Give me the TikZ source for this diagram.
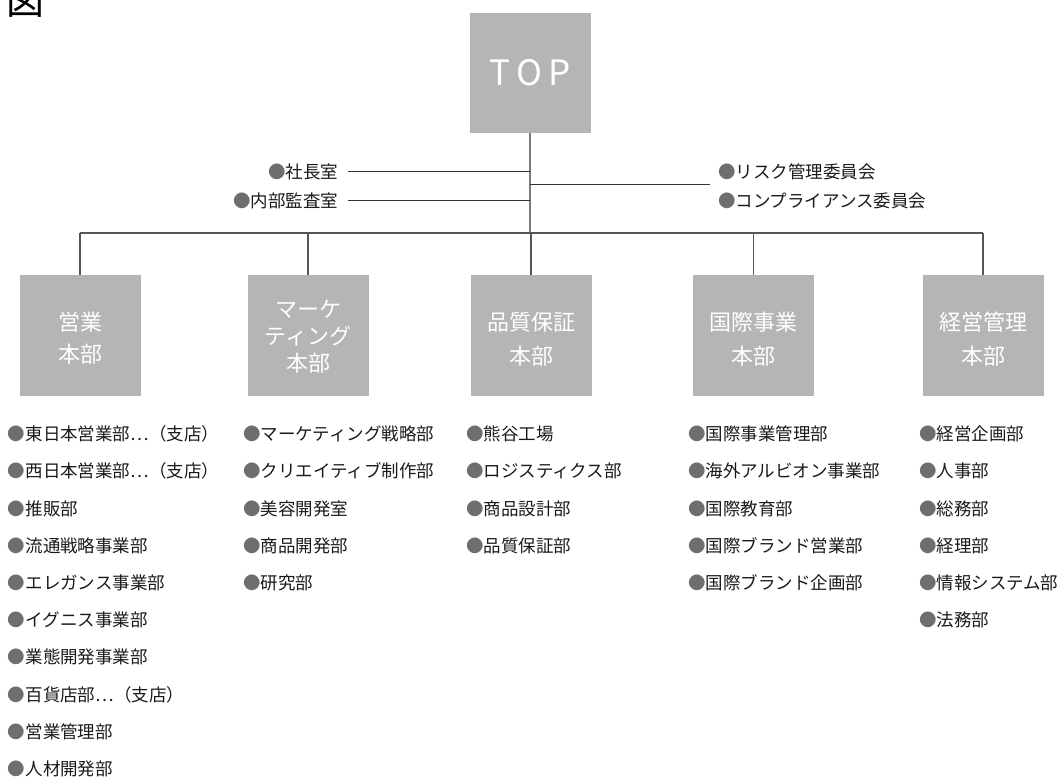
\documentclass[tikz,border=0pt]{standalone}
\usepackage{fontspec}
\setmainfont{Noto Sans CJK JP}
\definecolor{boxgray}{HTML}{B4B5B4}
\definecolor{bul}{HTML}{6E6E6E}
\definecolor{linegray}{HTML}{555555}
\definecolor{trunkgray}{HTML}{7A7A7A}
\definecolor{txt}{HTML}{1A1A1A}
\newcommand{\bl}{{\color{bul}●}}
\tikzset{
  every node/.style={inner sep=0pt, outer sep=0pt},
  lbl/.style={font=\fontsize{17.5}{20}\selectfont, text height=15.4pt, text depth=2.1pt, anchor=west, text=txt},
  boxnode/.style={fill=boxgray, minimum width=121pt, minimum height=121pt},
  boxtxt/.style={text=white, align=center},
  conn/.style={draw=linegray, line width=1.1pt},
  trunk/.style={draw=trunkgray, line width=1.6pt},
  side/.style={draw=black!80, line width=1pt}
}
\begin{document}
\begin{tikzpicture}[x=1pt,y=-1pt]
\useasboundingbox (0,0) rectangle (1061,781);
% title glyph (cut off)
\node[font=\fontsize{38}{40}\selectfont, text height=33.4pt, text depth=4.6pt, text=black] (zu) at (25,0) {図};
% TOP
\node[boxnode, minimum height=120pt] (top) at (530,73) {};
\node[text=white, font=\fontsize{35}{40}\selectfont] (toptxt) at (top.center) {T\hspace{6pt}O\hspace{6pt}P};
% junctions
\coordinate (j1) at (530,172);
\coordinate (j2) at (530,201);
\coordinate (j3) at (530,185);
\coordinate (busM) at (530,233);
\draw[trunk] (top.south) -- (busM);
% side offices
\node[lbl, anchor=east] (s1) at (338,172) {\bl 社長室};
\node[lbl, anchor=east] (s2) at (338,201) {\bl 内部監査室};
\node[lbl] (r1) at (718,172) {\bl リスク管理委員会};
\node[lbl] (r2) at (718,201) {\bl コンプライアンス委員会};
\draw[side] ([xshift=10pt]s1.east) -- (j1);
\draw[side] ([xshift=10pt]s2.east) -- (j2);
\draw[side] (j3) -- ([xshift=-8pt]r1.west |- j3);
% division boxes
\node[boxnode] (b1) at (80,335.5) {};
\node[boxnode] (b2) at (308,335.5) {};
\node[boxnode] (b3) at (531,335.5) {};
\node[boxnode] (b4) at (753.5,335.5) {};
\node[boxnode] (b5) at (983,335.5) {};
\draw[conn] (b1.north |- busM) -- (b5.north |- busM);
\foreach \b in {b1,b2,b3,b4,b5} \draw[conn] (\b.north) -- (\b.north |- busM);
\node[boxtxt, font=\fontsize{22}{32}\selectfont] (t1) at ([yshift=-3pt]b1.center) {営業\\本部};
\node[boxtxt, font=\fontsize{22}{27}\selectfont] (t2) at ([yshift=-1pt]b2.center) {マーケ\\ティング\\本部};
\node[boxtxt, font=\fontsize{22}{34}\selectfont] (t3) at ([yshift=-4pt]b3.center) {品質保証\\本部};
\node[boxtxt, font=\fontsize{22}{34}\selectfont] (t4) at ([yshift=-4pt]b4.center) {国際事業\\本部};
\node[boxtxt, font=\fontsize{22}{34}\selectfont] (t5) at ([yshift=-4pt]b5.center) {経営管理\\本部};
% lists
\foreach \t [count=\i from 0] in {東日本営業部⋯（支店）,西日本営業部⋯（支店）,推販部,流通戦略事業部,エレガンス事業部,イグニス事業部,業態開発事業部,百貨店部⋯（支店）,営業管理部,人材開発部}
  \node[lbl] (c1-\i) at (8,{434+37.2*\i}) {\bl\t};
\foreach \t [count=\i from 0] in {マーケティング戦略部,クリエイティブ制作部,美容開発室,商品開発部,研究部}
  \node[lbl] (c2-\i) at (243,{434+37.2*\i}) {\bl\t};
\foreach \t [count=\i from 0] in {熊谷工場,ロジスティクス部,商品設計部,品質保証部}
  \node[lbl] (c3-\i) at (466,{434+37.2*\i}) {\bl\t};
\foreach \t [count=\i from 0] in {国際事業管理部,海外アルビオン事業部,国際教育部,国際ブランド営業部,国際ブランド企画部}
  \node[lbl] (c4-\i) at (688,{434+37.2*\i}) {\bl\t};
\foreach \t [count=\i from 0] in {経営企画部,人事部,総務部,経理部,情報システム部,法務部}
  \node[lbl] (c5-\i) at (919,{434+37.2*\i}) {\bl\t};
\end{tikzpicture}
\end{document}
